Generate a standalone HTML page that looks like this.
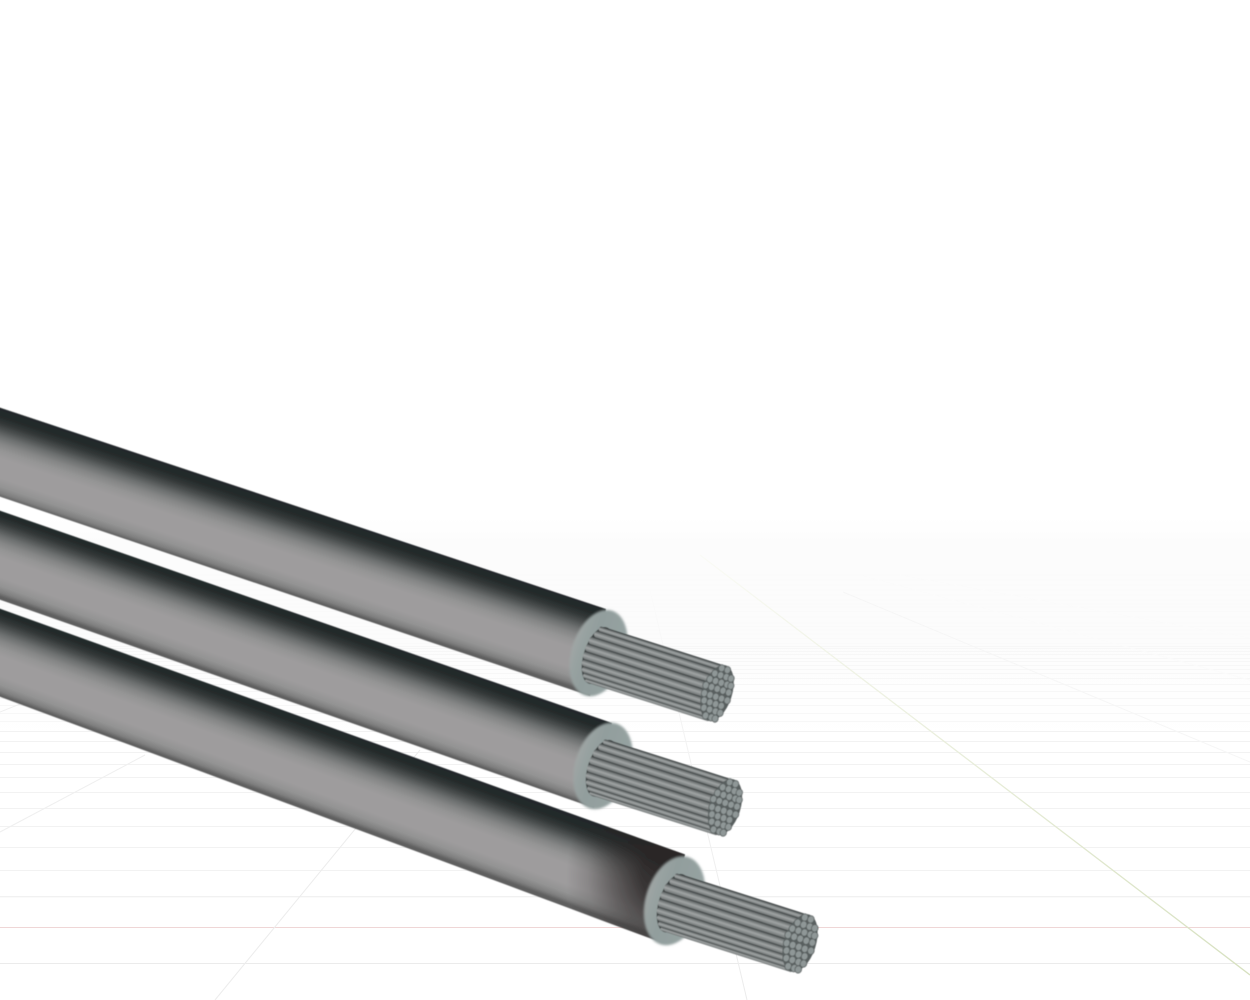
<!DOCTYPE html>
<html>
<head>
<meta charset="utf-8">
<title>Three stranded cables</title>
<style>
html,body{margin:0;padding:0;background:#fff;width:1250px;height:1000px;overflow:hidden}
svg{display:block}
</style>
</head>
<body>
<svg width="1250" height="1000" viewBox="0 0 1250 1000" xmlns="http://www.w3.org/2000/svg">
<defs>
<linearGradient id="bg" x1="0" y1="518" x2="0" y2="740" gradientUnits="userSpaceOnUse">
<stop offset="0" stop-color="#fff"/><stop offset=".12" stop-color="#fcfcfc"/><stop offset=".5" stop-color="#fcfcfc"/><stop offset="1" stop-color="#fff"/>
</linearGradient>
<linearGradient id="greenFade" x1="700" y1="555" x2="1250" y2="975" gradientUnits="userSpaceOnUse">
<stop offset="0" stop-color="#fafbf6"/><stop offset=".25" stop-color="#f0f3e6"/><stop offset="1" stop-color="#d6e0bf"/>
</linearGradient>
<linearGradient id="vertFade" x1="650" y1="590" x2="747" y2="1000" gradientUnits="userSpaceOnUse">
<stop offset="0" stop-color="#fbfbfb"/><stop offset=".3" stop-color="#f3f3f3"/><stop offset="1" stop-color="#ebebeb"/>
</linearGradient>
<linearGradient id="b1" gradientUnits="userSpaceOnUse" x1="300" y1="508" x2="273.5" y2="588">
<stop offset="0" stop-color="#222829"/><stop offset=".09" stop-color="#252b2b"/><stop offset=".16" stop-color="#333838"/><stop offset=".23" stop-color="#4c5050"/><stop offset=".31" stop-color="#6c6f6f"/><stop offset=".39" stop-color="#858686"/><stop offset=".47" stop-color="#959595"/><stop offset=".56" stop-color="#9e9c9d"/><stop offset=".78" stop-color="#9e9c9d"/><stop offset=".88" stop-color="#939393"/><stop offset=".95" stop-color="#7f7f7f"/><stop offset="1" stop-color="#5e5e5e"/>
</linearGradient>
<linearGradient id="b2" href="#b1" x1="300" y1="614" x2="272" y2="693"/>
<linearGradient id="b3" href="#b1" x1="300" y1="716" x2="271" y2="795"/>
<radialGradient id="sheen" gradientUnits="userSpaceOnUse" cx="674" cy="876" r="108">
<stop offset="0" stop-color="#2a2626" stop-opacity=".96"/><stop offset=".3" stop-color="#2a2626" stop-opacity=".86"/><stop offset=".55" stop-color="#2c2828" stop-opacity=".55"/><stop offset=".8" stop-color="#2c2828" stop-opacity=".18"/><stop offset="1" stop-color="#2c2828" stop-opacity="0"/>
</radialGradient>
<linearGradient id="strand" x1="0" y1="0" x2="0" y2="1">
<stop offset="0" stop-color="#34393a"/><stop offset=".22" stop-color="#6f7474"/><stop offset=".55" stop-color="#a1a5a5"/><stop offset="1" stop-color="#717676"/>
</linearGradient>
<linearGradient id="face" x1="0" y1="0" x2="1" y2="0">
<stop offset="0" stop-color="#a0a6a5"/><stop offset=".14" stop-color="#98a2a1"/><stop offset=".35" stop-color="#929e9d"/><stop offset="1" stop-color="#96a3a2"/>
</linearGradient>
<filter id="soft" x="-5%" y="-5%" width="110%" height="110%"><feGaussianBlur stdDeviation=".6"/></filter>
<filter id="rim" x="-10%" y="-10%" width="120%" height="120%"><feGaussianBlur stdDeviation="1"/></filter>
<ellipse id="s" rx="3.1" ry="3.6" fill="#8f9797" stroke="#5a6060" stroke-width=".8"/>
<g id="head">
<ellipse cx="-125" cy="-2" rx="27" ry="44.5" fill="url(#face)" filter="url(#rim)"/>
<ellipse cx="-125" cy="0.5" rx="14" ry="29.5" fill="#3d4242"/>
<rect x="-125" y="-28.5" width="125" height="58" fill="#3d4242"/>
<rect x="-132" y="-28" width="133" height="5" rx="2" fill="url(#strand)"/>
<rect x="-135" y="-23" width="136" height="7" rx="3" fill="url(#strand)"/>
<rect x="-138" y="-16" width="139" height="8" rx="3" fill="url(#strand)"/>
<rect x="-139" y="-8" width="140" height="8" rx="3" fill="url(#strand)"/>
<rect x="-139" y="0" width="140" height="8" rx="3" fill="url(#strand)"/>
<rect x="-138" y="8" width="139" height="7" rx="3" fill="url(#strand)"/>
<rect x="-136" y="15" width="137" height="6" rx="3" fill="url(#strand)"/>
<rect x="-133" y="21" width="134" height="5" rx="2" fill="url(#strand)"/>
<rect x="-129.5" y="26" width="130.5" height="3.5" rx="1.5" fill="url(#strand)"/>
<g transform="translate(-3 0)">
<ellipse cx="3" cy="0" rx="15" ry="29" fill="#585e5e"/>
<use href="#s" x="0" y="-25"/><use href="#s" x="6" y="-25"/>
<use href="#s" x="-5" y="-18"/><use href="#s" x="1" y="-18"/><use href="#s" x="7" y="-18"/><use href="#s" x="12" y="-18"/>
<use href="#s" x="-8" y="-11"/><use href="#s" x="-2" y="-11"/><use href="#s" x="4" y="-11"/><use href="#s" x="10" y="-11"/><use href="#s" x="14" y="-11"/>
<use href="#s" x="-10" y="-4"/><use href="#s" x="-4" y="-4"/><use href="#s" x="2" y="-4"/><use href="#s" x="8" y="-4"/><use href="#s" x="14" y="-4"/>
<use href="#s" x="-9" y="4"/><use href="#s" x="-3" y="4"/><use href="#s" x="3" y="4"/><use href="#s" x="9" y="4"/><use href="#s" x="15" y="4"/>
<use href="#s" x="-7" y="11"/><use href="#s" x="-1" y="11"/><use href="#s" x="5" y="11"/><use href="#s" x="11" y="11"/>
<use href="#s" x="-5" y="18"/><use href="#s" x="1" y="18"/><use href="#s" x="7" y="18"/><use href="#s" x="12" y="18"/>
<use href="#s" x="-1" y="25"/><use href="#s" x="5" y="25"/><use href="#s" x="9" y="25"/>
</g>
</g>
</defs>

<rect width="1250" height="1000" fill="#fff"/>
<rect y="518" width="1250" height="222" fill="url(#bg)"/>

<!-- ground grid: horizontals -->
<path fill="none" stroke="#fafafa" stroke-width="1" d="M0 575H1250M0 580H1250M0 585H1250M0 590H1250M0 595H1250M0 600H1250M0 604H1250M0 607H1250M0 611.5H1250M0 617H1250M0 623H1250M0 626.5H1250M0 630H1250M0 634H1250M0 638.5H1250M0 643.5H1250"/>
<path fill="none" stroke="#f7f7f7" stroke-width="1" d="M0 646.5H1250M0 648.5H1250M0 651.5H1250M0 654.5H1250M0 658.5H1250M0 661.5H1250M0 665.5H1250M0 669.5H1250M0 673.5H1250M0 678.5H1250M0 684.5H1250M0 691.5H1250M0 698.5H1250M0 705.5H1250M0 713.5H1250M0 721.5H1250"/>
<path fill="none" stroke="#f2f2f2" stroke-width="1" d="M0 731.5H1250M0 741.5H1250M0 752.5H1250M0 764.5H1250M0 777.5H1250M0 792.5H1250M0 808.5H1250M0 826.5H1250M0 847.5H1250M0 870.5H1250"/>
<path fill="none" stroke="#f1f1f1" stroke-width="1.3" d="M0 896.7H1250"/>
<path fill="none" stroke="#ebebeb" stroke-width="1" d="M0 963.5H1250"/>
<path fill="none" stroke="#efd6d6" stroke-width="1" d="M0 927.5H1250"/>

<!-- ground grid: converging lines -->
<path fill="none" stroke="#fbfbfb" stroke-width="1" d="M900 575L1250 638M860 575L1250 680"/>
<path fill="none" stroke="#f6f6f6" stroke-width="1" d="M843 592L1250 762"/>
<path fill="none" stroke="url(#greenFade)" stroke-width="1.3" d="M700 555L1250 975"/>
<path fill="none" stroke="url(#vertFade)" stroke-width="1" d="M650 590L747 1000"/>
<path fill="none" stroke="#ececec" stroke-width="1" d="M215 1000L420 750"/>
<path fill="none" stroke="#efefef" stroke-width="1" d="M0 832L145 755M0 712L30 700"/>

<!-- wires -->
<g filter="url(#soft)">
<polygon points="-2,407 606,609 590,696 -2,496" fill="url(#b1)"/>
<polygon points="-2,510 612,723 594,808 -2,599" fill="url(#b2)"/>
<polygon points="-2,608 685,854.5 663,943 -2,696" fill="url(#b3)"/>
<polygon points="550,806 685,854.5 663,943 550,902" fill="url(#sheen)"/>
<use href="#head" transform="translate(717 693) rotate(17.7)"/>
<use href="#head" transform="translate(725 807) rotate(17.7) scale(1.03 1)"/>
<use href="#head" transform="translate(800 943) rotate(17.7) scale(1.06 1.03)"/>
</g>
</svg>
</body>
</html>
